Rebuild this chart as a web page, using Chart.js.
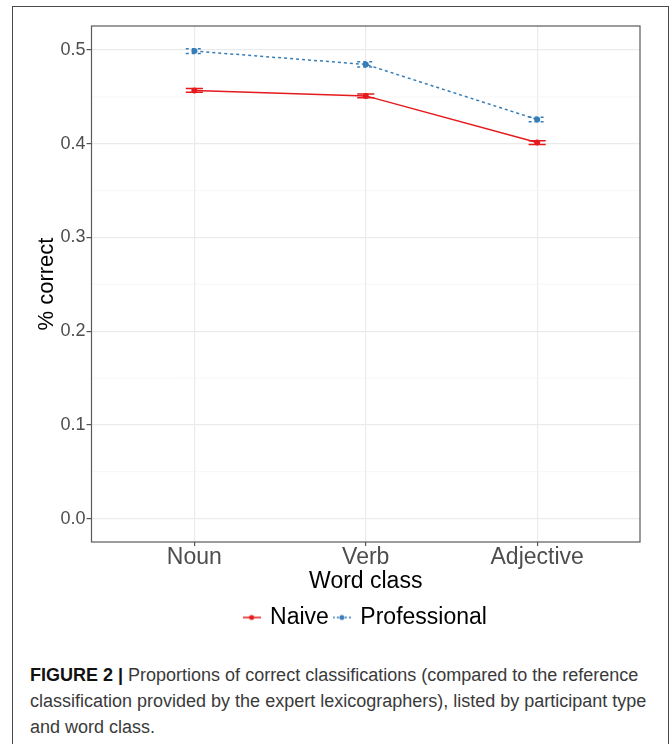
<!DOCTYPE html>
<html>
<head>
<meta charset="utf-8">
<script src="https://cdn.jsdelivr.net/npm/chart.js@4/dist/chart.umd.min.js"></script>
<style>
  html, body { margin: 0; padding: 0; background: #fff; }
  body { width: 672px; height: 744px; position: relative; overflow: hidden; font-family: "Liberation Sans", Arial, sans-serif; }
  #frame { position: absolute; left: 12px; top: 6px; width: 657px; height: 760px; border: 1.5px solid #4a4a4a; box-sizing: border-box; }
  #chart { position: absolute; left: 0; top: 0; }
  #caption { position: absolute; left: 30px; top: 662px; width: 628px; font-size: 18px; line-height: 26px; color: #3a3a3a; }
  #caption b { color: #111; }
</style>
</head>
<body>
<div id="frame"></div>
<canvas id="chart" width="672" height="645"></canvas>
<div id="caption"><b>FIGURE 2 |</b> Proportions of correct classifications (compared to the reference classification provided by the expert lexicographers), listed by participant type and word class.</div>
<script>
// Word classes on the x axis
const categories = ['Noun', 'Verb', 'Adjective'];

// Mean proportion correct per participant type
const naive = [0.4569, 0.4511, 0.4013];
const professional = [0.4989, 0.4847, 0.4259];

// Standard errors (half-length of the error bars)
const naiveSE = [0.0020, 0.0021, 0.0020];
const professionalSE = [0.0025, 0.0028, 0.0025];

// Y axis gridlines and labels
const yMajor = [0, 0.1, 0.2, 0.3, 0.4, 0.5];
const yMajorLabels = ['0.0', '0.1', '0.2', '0.3', '0.4', '0.5'];
const yMinor = [0.05, 0.15, 0.25, 0.35, 0.45];

const RED = '#e41a1c';
const BLUE = '#377eb8';
const CAP_WIDTH = 0.1; // in category units

function toPoints(values) {
  return values.map((v, i) => ({ x: i, y: v }));
}

// Small "line + dot" glyph used as the legend key
function legendGlyph(color, dash) {
  const c = document.createElement('canvas');
  c.width = 18; c.height = 8;
  const g = c.getContext('2d');
  g.strokeStyle = color;
  g.lineWidth = 1.5;
  g.setLineDash(dash);
  g.beginPath(); g.moveTo(0, 4); g.lineTo(18, 4); g.stroke();
  g.fillStyle = color;
  g.beginPath(); g.arc(9, 4, 2.5, 0, Math.PI * 2); g.fill();
  return c;
}

// Error bars with caps, drawn through the chart's scales
const errorBars = {
  id: 'errorBars',
  afterDatasetsDraw(chart) {
    const { ctx } = chart;
    const xs = chart.scales.x, ys = chart.scales.y;
    chart.data.datasets.forEach(ds => {
      const se = ds.errors;
      ctx.save();
      ctx.strokeStyle = ds.borderColor;
      ctx.lineWidth = 1.5;
      ctx.setLineDash(ds.borderDash || []);
      ds.data.forEach((p, i) => {
        const x = xs.getPixelForValue(p.x);
        const xl = xs.getPixelForValue(p.x - CAP_WIDTH / 2);
        const xr = xs.getPixelForValue(p.x + CAP_WIDTH / 2);
        const yTop = ys.getPixelForValue(p.y + se[i]);
        const yBot = ys.getPixelForValue(p.y - se[i]);
        ctx.beginPath();
        ctx.moveTo(xl, yTop); ctx.lineTo(xr, yTop);
        ctx.moveTo(xl, yBot); ctx.lineTo(xr, yBot);
        ctx.moveTo(x, yTop); ctx.lineTo(x, yBot);
        ctx.stroke();
      });
      ctx.restore();
    });
  }
};

// Minor gridlines and the panel outline
const panel = {
  id: 'panel',
  beforeDatasetsDraw(chart) {
    const { ctx, chartArea: a } = chart;
    const ys = chart.scales.y;
    ctx.save();
    ctx.strokeStyle = '#f3f3f3';
    ctx.lineWidth = 0.7;
    yMinor.forEach(v => {
      const y = ys.getPixelForValue(v);
      ctx.beginPath(); ctx.moveTo(a.left, y); ctx.lineTo(a.right, y); ctx.stroke();
    });
    ctx.strokeStyle = '#5a5a5a';
    ctx.lineWidth = 1.2;
    ctx.strokeRect(a.left, a.top, a.right - a.left, a.bottom - a.top);
    ctx.restore();
  }
};

new Chart(document.getElementById('chart'), {
  type: 'line',
  data: {
    datasets: [
      {
        label: 'Naive',
        data: toPoints(naive),
        errors: naiveSE,
        borderColor: RED,
        backgroundColor: RED,
        borderWidth: 1.5,
        pointRadius: 3,
        pointBorderWidth: 0,
        pointStyle: 'circle',
        legendGlyph: legendGlyph(RED, [])
      },
      {
        label: 'Professional',
        data: toPoints(professional),
        errors: professionalSE,
        borderColor: BLUE,
        backgroundColor: BLUE,
        borderWidth: 1.5,
        borderDash: [3, 3],
        pointRadius: 3,
        pointBorderWidth: 0,
        pointStyle: 'circle',
        legendGlyph: legendGlyph(BLUE, [2, 2])
      }
    ]
  },
  options: {
    responsive: false,
    animation: false,
    events: [],
    layout: { padding: { left: 0, right: 32, top: 26, bottom: 6 } },
    scales: {
      x: {
        type: 'linear',
        min: -0.6,
        max: 2.6,
        afterBuildTicks: s => { s.ticks = categories.map((_, i) => ({ value: i })); },
        afterFit: s => { s.height = 58; },
        ticks: {
          callback: v => categories[v],
          color: '#4d4d4d',
          font: { family: 'Liberation Sans', size: 23 },
          padding: -2,
          maxRotation: 0
        },
        grid: { color: '#ebebeb', lineWidth: 1.2, tickLength: 4, tickColor: '#555' },
        border: { display: false },
        title: {
          display: true,
          text: 'Word class',
          color: '#000',
          font: { family: 'Liberation Sans', size: 23 },
          padding: { top: 0, bottom: 5 }
        }
      },
      y: {
        type: 'linear',
        min: -0.025,
        max: 0.5257,
        afterBuildTicks: s => { s.ticks = yMajor.map(v => ({ value: v })); },
        afterFit: s => { s.width = 91.5; },
        ticks: {
          callback: (v, i) => yMajorLabels[i],
          color: '#4d4d4d',
          font: { family: 'Liberation Sans', size: 18 },
          padding: 1
        },
        grid: { color: '#ebebeb', lineWidth: 1.2, tickLength: 5, tickColor: '#555' },
        border: { display: false },
        title: {
          display: true,
          text: '% correct',
          color: '#000',
          font: { family: 'Liberation Sans', size: 22 },
          padding: { top: 34, bottom: 0 }
        }
      }
    },
    plugins: {
      tooltip: { enabled: false },
      legend: {
        position: 'bottom',
        fullSize: false,
        labels: {
          usePointStyle: true,
          pointStyleWidth: 14,
          color: '#000',
          font: { family: 'Liberation Sans', size: 23 },
          padding: 6,
          generateLabels: chart => chart.data.datasets.map((ds, i) => ({
            text: ds.label,
            pointStyle: ds.legendGlyph,
            fillStyle: ds.borderColor,
            strokeStyle: ds.borderColor,
            lineWidth: 0,
            fontColor: '#000',
            datasetIndex: i,
            hidden: false
          }))
        }
      }
    }
  },
  plugins: [panel, errorBars]
});
</script>
</body>
</html>
